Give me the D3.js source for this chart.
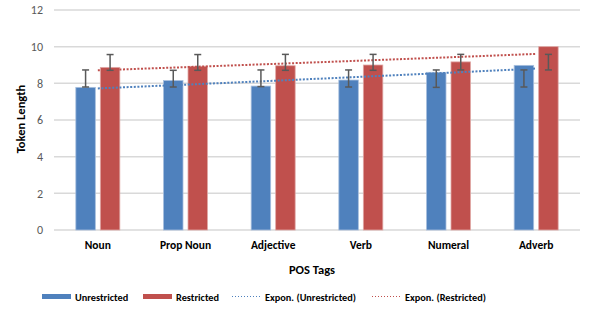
<!DOCTYPE html>
<html><head><meta charset="utf-8">
<script src="https://cdn.jsdelivr.net/npm/d3@7"></script>
<style>body{margin:0;background:#fff}svg{display:block}text{font-family:Carlito,"Liberation Sans",Arial,sans-serif}</style>
</head><body><svg id="c" width="591" height="313"></svg>
<script>
const categories = ["Noun","Prop Noun","Adjective","Verb","Numeral","Adverb"];
const series = ["Unrestricted","Restricted"];
const unrestricted = [7.78, 8.15, 7.85, 8.18, 8.6, 8.98];
const restricted = [8.87, 8.93, 8.96, 9.0, 9.17, 10.0];
const unrestrictedErrLow = [7.8, 7.8, 7.82, 7.8, 7.78, 7.8];
const unrestrictedErrHigh = [8.73, 8.71, 8.73, 8.73, 8.73, 8.73];
const restrictedErrLow = [8.71, 8.71, 8.71, 8.71, 8.73, 8.73];
const restrictedErrHigh = [9.57, 9.57, 9.58, 9.58, 9.58, 9.58];
const yTicks = [0,2,4,6,8,10,12];
const colors = {Unrestricted:"#4F81BD", Restricted:"#C0504D"};
const strokes = {Unrestricted:"#A7BFDE", Restricted:"#E0A8A6"};

const svg = d3.select("#c");
const x0 = d3.scaleBand().domain(categories).range([54,580]);
const bw = x0.bandwidth();
const x1 = d3.scaleBand().domain(series).range([bw/2-22, bw/2+22]).paddingInner(0.204);
const y = d3.scaleLinear().domain([0,12]).range([230,10]);

// gridlines
svg.append("g").selectAll("line").data(yTicks).join("line")
  .attr("x1",54).attr("x2",580).attr("y1",d=>y(d)).attr("y2",d=>y(d))
  .attr("stroke","#D9D9D9").attr("stroke-width",1.5);

// y axis labels
const yAxis = d3.axisLeft(y).tickValues(yTicks).tickSize(0).tickPadding(0);
const ya = svg.append("g").attr("transform","translate(43,0)").call(yAxis);
ya.select(".domain").remove();
ya.selectAll("text").attr("fill","#595959").style("font-size","12px").style("font-family","Carlito,'Liberation Sans',Arial,sans-serif");

// x axis labels
const xAxis = d3.axisBottom(x0).tickSize(0).tickPadding(0);
const xa = svg.append("g").attr("transform","translate(0,241)").call(xAxis);
xa.select(".domain").remove();
xa.selectAll("text").attr("fill","#000").style("font-size","11.5px").style("font-weight","bold").style("font-family","Carlito,'Liberation Sans',Arial,sans-serif");

const dataBy = {Unrestricted:unrestricted, Restricted:restricted};
const errBy = {Unrestricted:[unrestrictedErrLow,unrestrictedErrHigh], Restricted:[restrictedErrLow,restrictedErrHigh]};

// bars
series.forEach(s=>{
  svg.append("g").selectAll("rect").data(categories).join("rect")
    .attr("x",(c)=>x0(c)+x1(s)).attr("width",x1.bandwidth())
    .attr("y",(c,i)=>y(dataBy[s][i])).attr("height",(c,i)=>y(0)-y(dataBy[s][i]))
    .attr("fill",colors[s]).attr("stroke",strokes[s]).attr("stroke-width",0.8);
});

// trend lines (exponential fit, as Excel)
function expFit(vals){
  const xs = vals.map((v,i)=>i+1), ls = vals.map(v=>Math.log(v));
  const mx = d3.mean(xs), ml = d3.mean(ls);
  const b = d3.sum(xs.map((xv,i)=>(xv-mx)*(ls[i]-ml)))/d3.sum(xs.map(xv=>(xv-mx)**2));
  const a = ml - b*mx;
  return xs.map(xv=>Math.exp(a+b*xv));
}
const line = d3.line().x((d,i)=>x0(categories[i])+bw/2).y(d=>y(d));
series.forEach(s=>{
  svg.append("path").datum(expFit(dataBy[s])).attr("d",line)
    .attr("fill","none").attr("stroke",colors[s]).attr("stroke-width",2).attr("stroke-dasharray","2,1.6");
});

// error bars
series.forEach(s=>{
  const g = svg.append("g").attr("stroke","#595959").attr("stroke-width",1.5);
  categories.forEach((c,i)=>{
    const cx = x0(c)+x1(s)+x1.bandwidth()/2;
    const lo = y(errBy[s][0][i]), hi = y(errBy[s][1][i]);
    g.append("line").attr("x1",cx).attr("x2",cx).attr("y1",lo).attr("y2",hi);
    g.append("line").attr("x1",cx-3.5).attr("x2",cx+3.5).attr("y1",lo).attr("y2",lo);
    g.append("line").attr("x1",cx-3.5).attr("x2",cx+3.5).attr("y1",hi).attr("y2",hi);
  });
});

// axis titles
svg.append("text").attr("x",312).attr("y",274).attr("text-anchor","middle")
  .style("font-size","12.5px").style("font-weight","bold").attr("fill","#000").text("POS Tags");
svg.append("text").attr("transform","translate(25,119) rotate(-90)").attr("text-anchor","middle")
  .style("font-size","12.5px").style("font-weight","bold").attr("fill","#000").text("Token Length");

// legend
const legend = [
  {label:"Unrestricted", type:"rect", color:colors.Unrestricted, x:42},
  {label:"Restricted", type:"rect", color:colors.Restricted, x:143},
  {label:"Expon. (Unrestricted)", type:"line", color:colors.Unrestricted, x:232},
  {label:"Expon. (Restricted)", type:"line", color:colors.Restricted, x:372}
];
const lg = svg.append("g");
legend.forEach(l=>{
  if(l.type==="rect") lg.append("rect").attr("x",l.x).attr("y",294).attr("width",29).attr("height",5).attr("fill",l.color);
  else lg.append("line").attr("x1",l.x).attr("x2",l.x+30).attr("y1",296.5).attr("y2",296.5).attr("stroke",l.color).attr("stroke-width",1).attr("stroke-dasharray","1,2");
  lg.append("text").attr("x",l.x+33).attr("y",300.5).style("font-size","10.3px").style("font-weight","bold").attr("fill","#000").text(l.label);
});
</script></body></html>
